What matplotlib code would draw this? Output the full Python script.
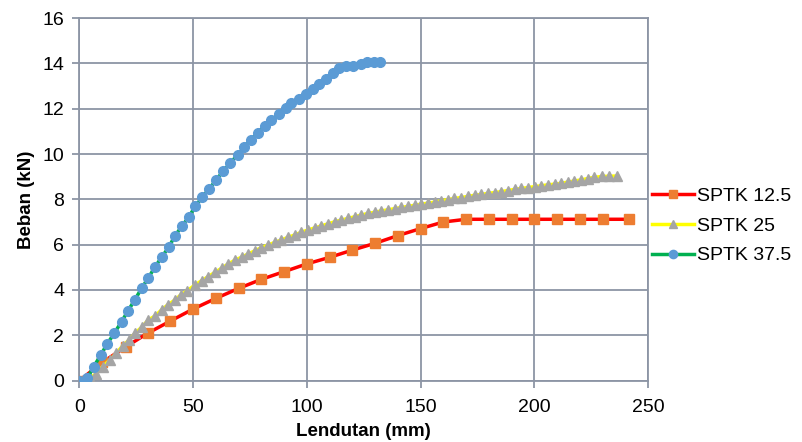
import numpy as np
import matplotlib
matplotlib.use('Agg')
import matplotlib.pyplot as plt

plt.rcParams['font.family'] = ['Liberation Sans', 'DejaVu Sans']
plt.rcParams['axes.facecolor'] = '#FFFFFF'
plt.rcParams['figure.facecolor'] = '#FFFFFF'

# SPTK 12.5 (squares)
x_125 = [0, 10, 20.5, 30, 40, 50, 60, 70, 80, 90, 100, 110, 120, 130, 140,
         150, 160, 170, 180, 190, 200, 210, 220, 230, 241.5]
y_125 = [0, 0.80, 1.50, 2.09, 2.63, 3.16, 3.63, 4.07, 4.47, 4.81, 5.15, 5.44,
         5.76, 6.06, 6.40, 6.71, 7.00, 7.12, 7.12, 7.12, 7.12, 7.12, 7.12,
         7.12, 7.12]

# SPTK 25 (triangles)
x_25 = [0, 4.4, 7.3, 10.2, 13.4, 16.1, 19.0, 21.9, 24.4, 27.4, 30.3, 33.2,
        36.1, 38.8, 42.0, 44.5, 47.4, 50.8, 53.7, 56.6, 59.6, 62.5,
        65.4, 68.3, 71.3, 74.2, 77.1, 80.0, 83.0, 85.9, 88.8, 91.8, 94.7,
        97.6, 100.5, 103.5, 106.4, 109.3, 112.2, 115.2, 118.1, 121.0, 124.0,
        126.9, 129.8, 132.7, 135.7, 138.6, 141.5, 144.5, 147.4,
        150.3, 153.2, 156.2, 159.1, 162.0, 164.9, 167.9, 170.8, 173.7, 176.7,
        179.6, 182.5, 185.4, 188.4, 191.3, 194.2, 197.1, 200.1, 203.0, 205.9,
        208.9, 211.8, 214.7, 217.6, 220.6, 223.5, 226.4, 229.6, 232.9, 236.5]
y_25 = [0, 0.10, 0.30, 0.62, 0.91, 1.21, 1.53, 1.80, 2.09, 2.36, 2.68, 2.85,
        3.12, 3.34, 3.56, 3.78, 3.97, 4.22, 4.41, 4.59, 4.78, 4.96,
        5.15, 5.31, 5.45, 5.59, 5.73, 5.87, 5.99, 6.10, 6.21, 6.33, 6.43,
        6.55, 6.65, 6.74, 6.83, 6.92, 7.01, 7.09, 7.16, 7.23, 7.31,
        7.38, 7.43, 7.49, 7.54, 7.59, 7.64, 7.69, 7.74,
        7.79, 7.83, 7.88, 7.94, 7.99, 8.04, 8.08, 8.13, 8.18, 8.22,
        8.26, 8.30, 8.34, 8.39, 8.44, 8.48, 8.52, 8.56, 8.60, 8.64,
        8.67, 8.71, 8.76, 8.81, 8.86, 8.92, 8.97, 9.01, 9.02, 9.03]

# SPTK 37.5 (circles)
x_375 = [0, 3.4, 6.3, 9.3, 12.2, 15.3, 18.5, 21.4, 24.3, 27.3, 30.2, 33.1,
         36.3, 39.4, 41.9, 45.1, 48.1, 51.0, 54.0, 57.1, 60.1, 63.3, 66.2,
         69.5, 72.4, 75.4, 78.3, 81.4, 84.4, 87.6, 90.6, 93.2, 96.4, 99.4,
         102.6, 105.5, 108.5, 111.4, 114.3, 117.4, 120.4, 123.6, 126.5,
         129.4, 132.3]
y_375 = [0, 0.10, 0.62, 1.12, 1.62, 2.09, 2.60, 3.09, 3.56, 4.07, 4.52, 5.00,
         5.47, 5.91, 6.38, 6.82, 7.23, 7.70, 8.10, 8.47, 8.86, 9.26, 9.59,
         9.96, 10.30, 10.62, 10.94, 11.24, 11.50, 11.77, 12.02, 12.24, 12.43,
         12.65, 12.86, 13.10, 13.32, 13.57, 13.81, 13.89, 13.90, 13.96, 14.05,
         14.07, 14.07]

labels = ['SPTK 12.5', 'SPTK 25', 'SPTK 37.5']

fig = plt.figure(figsize=(8.03, 4.42), dpi=100)
ax = fig.add_axes([0.099, 0.139, 0.708, 0.820])

gridc = '#8C95A5'
ax.grid(True, color=gridc, linewidth=1.3, zorder=0)
ax.set_axisbelow(True)

ax.plot(x_125, y_125, color='#FF0000', linewidth=2.5, marker='s',
        markersize=7, markerfacecolor='#ED7D31', markeredgecolor='#ED7D31',
        label=labels[0], zorder=3)
ax.plot(x_25, y_25, color='#FFFF00', linewidth=2.5, marker='^',
        markersize=7, markerfacecolor='#A5A5A5', markeredgecolor='#A5A5A5',
        label=labels[1], zorder=3)
ax.plot(x_375, y_375, color='#00B050', linewidth=2.5, marker='o',
        markersize=7, markerfacecolor='#5B9BD5', markeredgecolor='#5B9BD5',
        label=labels[2], zorder=4)

ax.set_xlim(0, 250)
ax.set_ylim(0, 16)
ax.set_xticks(np.arange(0, 251, 50))
ax.set_yticks(np.arange(0, 17, 2))
ax.tick_params(axis='both', labelsize=14, length=5, color=gridc, width=1.3)
ax.tick_params(axis='x', pad=8.5)
ax.tick_params(axis='y', pad=6)
for s in ['left', 'bottom', 'top', 'right']:
    ax.spines[s].set_color(gridc)
    ax.spines[s].set_linewidth(1.3)

ax.set_xlabel('Lendutan (mm)', fontsize=13.5, fontweight='bold', labelpad=4.5)
ax.set_ylabel('Beban (kN)', fontsize=13.5, fontweight='bold', labelpad=5)

fig.legend(loc='center left', bbox_to_anchor=(0.812, 0.489), frameon=False,
           fontsize=14, handlelength=2.15, handletextpad=0.15,
           labelspacing=0.62, borderpad=0, borderaxespad=0, markerscale=0.85)

plt.savefig('out.png', dpi=100)
